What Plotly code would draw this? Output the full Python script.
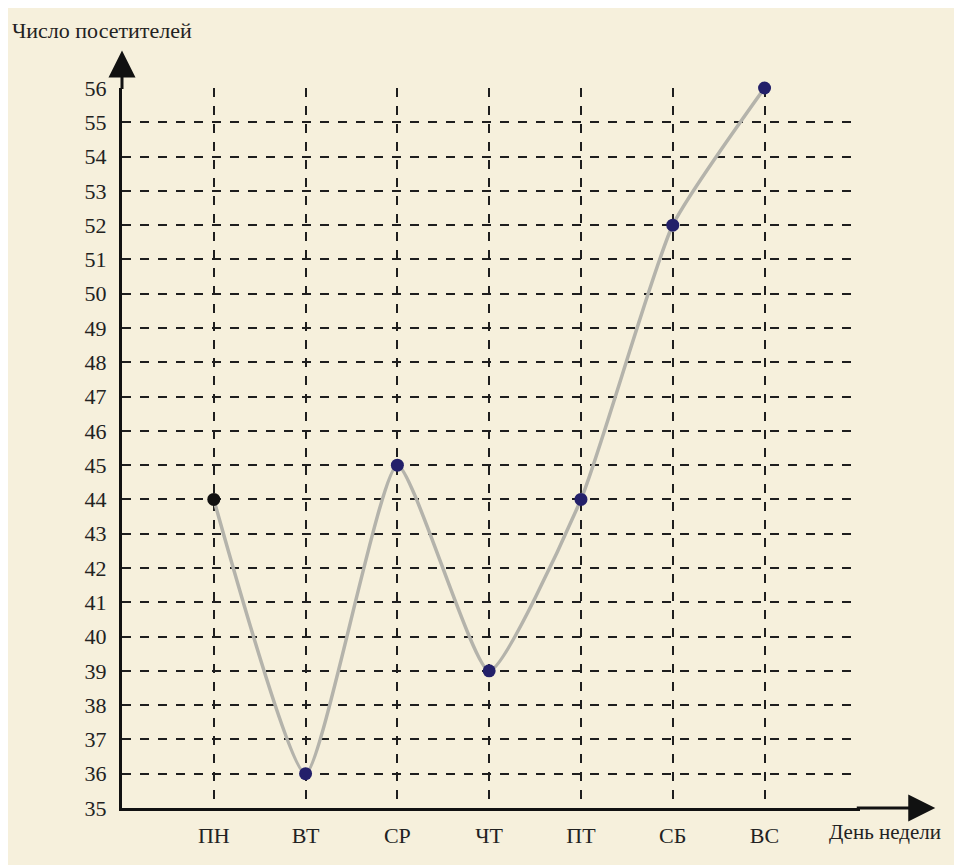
import plotly.graph_objects as go

days = ["ПН", "ВТ", "СР", "ЧТ", "ПТ", "СБ", "ВС"]
visitors = [44, 36, 45, 39, 44, 52, 56]
y_ticks = list(range(35, 57))
marker_colors = ["#111111", "#23206a", "#23206a", "#23206a", "#23206a", "#23206a", "#23206a"]

bg = "#f6f0dc"
font_family = "Liberation Serif, Times New Roman, serif"
txt = "#222222"

fig = go.Figure()
fig.add_trace(go.Scatter(
    x=days, y=visitors, mode="lines",
    line=dict(color="#b4b3ab", width=3.5, shape="spline", smoothing=0.5),
    hoverinfo="skip", showlegend=False, cliponaxis=False,
))
fig.add_trace(go.Scatter(
    x=days, y=visitors, mode="markers",
    marker=dict(color=marker_colors, size=13, line=dict(width=0)),
    showlegend=False, cliponaxis=False,
))

fig.update_layout(
    width=954, height=857,
    paper_bgcolor=bg, plot_bgcolor=bg,
    margin=dict(l=114, r=102, t=80, b=57),
    font=dict(family=font_family, size=22, color=txt),
    xaxis=dict(
        type="category", categoryorder="array", categoryarray=days,
        range=[-1, 7.04],
        showgrid=True, gridcolor="#1e1e1e", gridwidth=2, griddash="dash",
        showline=True, linecolor="#111111", linewidth=3,
        ticks="", ticklabelstandoff=6,
        tickfont=dict(family=font_family, size=22, color=txt),
        zeroline=False, fixedrange=True,
    ),
    yaxis=dict(
        range=[35, 56], tickvals=y_ticks, ticktext=[str(v) for v in y_ticks],
        showgrid=True, gridcolor="#1e1e1e", gridwidth=2, griddash="dash",
        showline=True, linecolor="#111111", linewidth=3,
        ticks="", ticklabelstandoff=8,
        tickfont=dict(family=font_family, size=22, color=txt),
        zeroline=False, fixedrange=True,
    ),
)

# axis arrows
fig.add_annotation(
    xref="paper", yref="paper", x=0, y=1.052, ax=0, ay=40,
    axref="pixel", ayref="pixel", showarrow=True,
    arrowhead=2, arrowsize=1.8, arrowwidth=3, arrowcolor="#111111", text="",
)
fig.add_annotation(
    xref="paper", yref="paper", x=1.102, y=0, ax=-80, ay=0,
    axref="pixel", ayref="pixel", showarrow=True,
    arrowhead=2, arrowsize=1.8, arrowwidth=3, arrowcolor="#111111", text="",
)

# axis titles
fig.add_annotation(
    xref="paper", yref="paper", x=-0.152, y=1.08, xanchor="left", yanchor="middle",
    text="Число посетителей", showarrow=False,
    font=dict(family=font_family, size=22, color=txt),
)
fig.add_annotation(
    xref="paper", yref="paper", x=0.955, y=-0.033, xanchor="left", yanchor="middle",
    text="День недели", showarrow=False,
    font=dict(family=font_family, size=21, color=txt),
)

fig.write_html("out.html")
